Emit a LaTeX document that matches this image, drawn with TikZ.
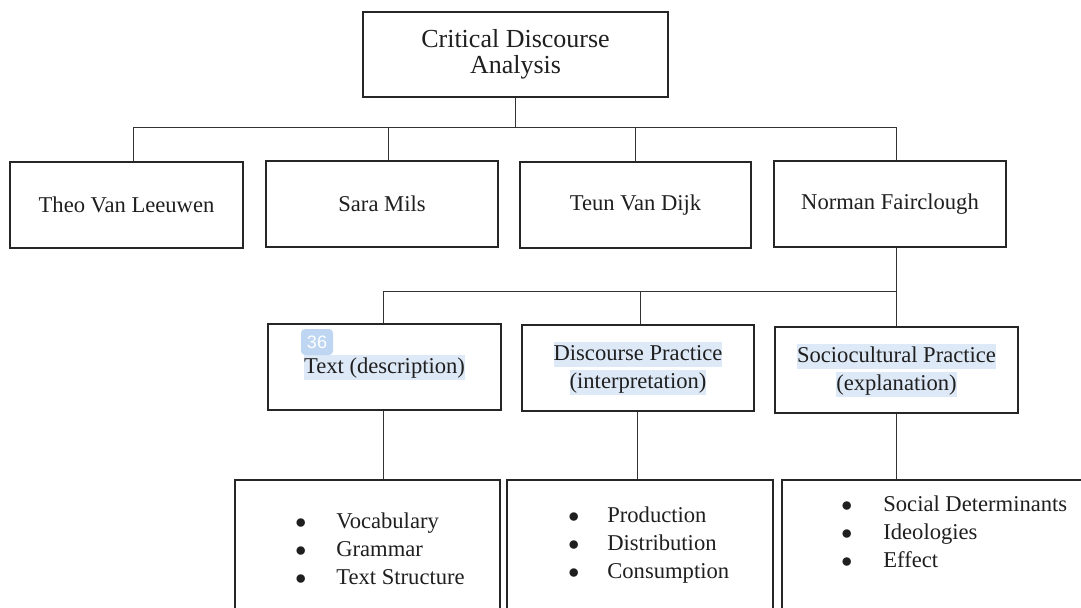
\documentclass[tikz,border=0pt]{standalone}
\usepackage{fontspec}
\setmainfont{Liberation Serif}
\newfontfamily\badgefont{Liberation Sans}
\usepackage{xcolor}
\usetikzlibrary{positioning}
\definecolor{selblue}{HTML}{DEE9F7}
\definecolor{badgeblue}{HTML}{BFD6F3}
\newcommand{\selhl}[1]{{\setlength{\fboxsep}{0pt}\colorbox{selblue}{\rule[-3.2pt]{0pt}{12.5pt}#1}}}
\newcommand{\itembul}{$\bullet$}

\begin{document}
\begin{tikzpicture}[x=0.5pt, y=-0.5pt]
      \tikzset{box/.style={draw=black!85, line width=1.1pt, fill=white,
        inner sep=0pt, align=center, minimum height=43pt, text=black!88,
        font=\fontsize{11.3}{14}\selectfont}}
      \tikzset{wire/.style={draw=black!80, line width=0.5pt}}
      \tikzset{items/.style={inner sep=0pt, anchor=west, text=black!88,
        font=\fontsize{11.3}{14}\selectfont}}

      \useasboundingbox (0,0) rectangle (1081,607);
      \clip (0,0) rectangle (1081,607);

      \node [box, minimum width=152.5pt, minimum height=42.5pt,
        font=\fontsize{13}{13}\selectfont] (cda) at (515.5,54.5)
        {Critical Discourse\\Analysis};

      \node [box, minimum width=116.5pt] (theo) at (126.5,205) {Theo Van Leeuwen};
      \node [box, minimum width=116pt] (sara) at (382,204) {Sara Mils};
      \node [box, minimum width=115.5pt] (teun) at (635.5,205) {Teun Van Dijk};
      \node [box, minimum width=116pt] (norman) at (890,204) {Norman Fairclough};

      \node [box, minimum width=116.5pt] (txt) at (384.5,367) {\selhl{Text (description)}};
      \node [box, minimum width=116pt] (disc) at (638,368)
        {\selhl{Discourse Practice}\\\selhl{(interpretation)}};
      \node [box, minimum width=121.5pt] (socio) at (896.5,370)
        {\selhl{Sociocultural Practice}\\\selhl{(explanation)}};
      \node [fill=badgeblue, rounded corners=2pt, minimum width=16pt,
        minimum height=13pt, inner sep=0pt, text=white,
        font=\badgefont\fontsize{9}{9}\selectfont] (page) at (317,342) {36};

      \node [box, minimum width=132.5pt, minimum height=80pt] (txtlist) at (367.5,560) {};
      \node [box, minimum width=133pt, minimum height=80pt] (disclist) at (640,560) {};
      \node [box, minimum width=164pt, minimum height=80pt] (soclist) at (946,560) {};

      \node [items] (txtitems) at (295,551) {\begin{tabular}{@{}l@{\hspace{15pt}}l@{}}
        \itembul & Vocabulary\\ \itembul & Grammar\\ \itembul & Text Structure\end{tabular}};
      \node [items] (discitems) at (568,545) {\begin{tabular}{@{}l@{\hspace{14pt}}l@{}}
        \itembul & Production\\ \itembul & Distribution\\ \itembul & Consumption\end{tabular}};
      \node [items] (socitems) at (841,534) {\begin{tabular}{@{}l@{\hspace{15.5pt}}l@{}}
        \itembul & Social Determinants\\ \itembul & Ideologies\\ \itembul & Effect\end{tabular}};

      \coordinate [below=14.5pt of cda.south] (hub1);
      \coordinate [above=17pt of socio.north] (hub2);

      \draw [wire] (cda.south) -- (hub1);
      \draw [wire] ([xshift=3.25pt]theo.north) |- (hub1) -| ([xshift=3pt]norman.north);
      \draw [wire] ([xshift=3pt]sara.north) -- ([xshift=3pt]sara.north |- hub1);
      \draw [wire] (teun.north) -- (teun.north |- hub1);

      \draw [wire] (socio.north) -- (socio.north |- norman.south);
      \draw [wire] ([xshift=-0.75pt]txt.north) |- (hub2);
      \draw [wire] ([xshift=1pt]disc.north) -- ([xshift=1pt]disc.north |- hub2);

      \draw [wire] ([xshift=-0.75pt]txt.south) -- ([xshift=-0.75pt]txt.south |- txtlist.north);
      \draw [wire] ([xshift=-0.5pt]disc.south) -- ([xshift=-0.5pt]disc.south |- disclist.north);
      \draw [wire] (socio.south) -- (socio.south |- soclist.north);
    \end{tikzpicture}
\end{document}
